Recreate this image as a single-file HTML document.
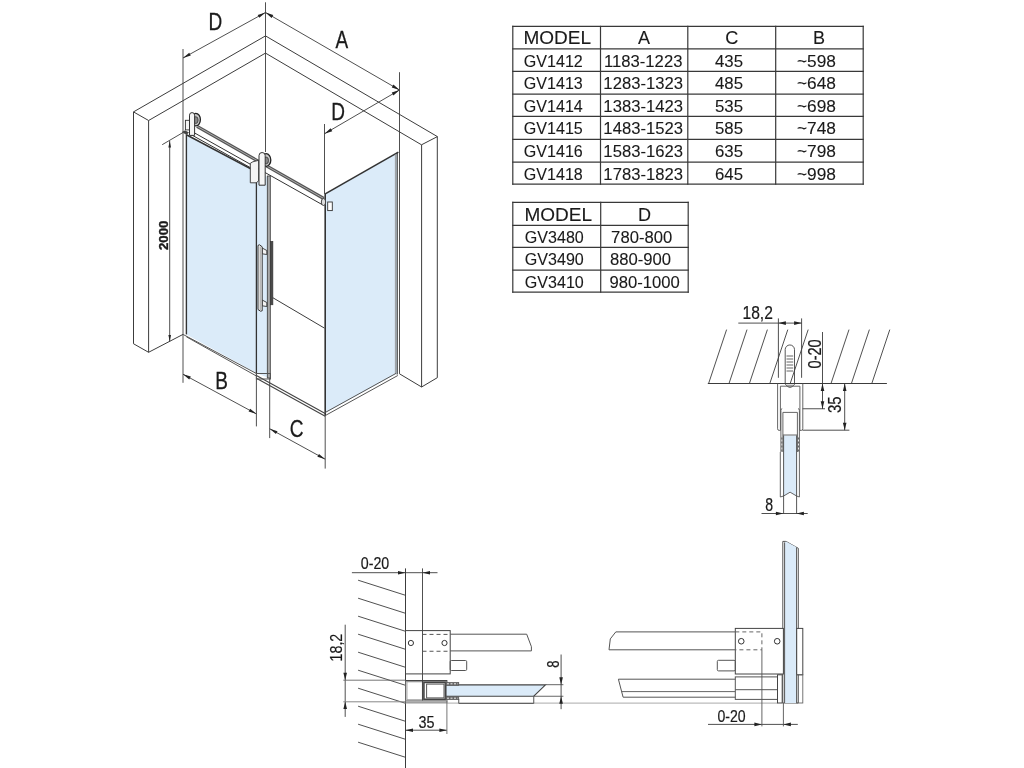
<!DOCTYPE html>
<html><head><meta charset="utf-8"><style>
html,body{margin:0;padding:0;background:#fff;width:1024px;height:768px;overflow:hidden}
svg{display:block;will-change:transform}
text{font-family:"Liberation Sans",sans-serif}
</style></head><body>
<svg width="1024" height="768" viewBox="0 0 1024 768">
<rect width="1024" height="768" fill="#fff"/>
<line x1="512.80" y1="26.40" x2="512.80" y2="184.20" stroke="#383838" stroke-width="1.2" stroke-linecap="square"/>
<line x1="600.50" y1="26.40" x2="600.50" y2="184.20" stroke="#383838" stroke-width="1.2" stroke-linecap="square"/>
<line x1="687.80" y1="26.40" x2="687.80" y2="184.20" stroke="#383838" stroke-width="1.2" stroke-linecap="square"/>
<line x1="775.70" y1="26.40" x2="775.70" y2="184.20" stroke="#383838" stroke-width="1.2" stroke-linecap="square"/>
<line x1="863.20" y1="26.40" x2="863.20" y2="184.20" stroke="#383838" stroke-width="1.2" stroke-linecap="square"/>
<line x1="512.80" y1="26.40" x2="863.20" y2="26.40" stroke="#383838" stroke-width="1.2" stroke-linecap="square"/>
<line x1="512.80" y1="48.90" x2="863.20" y2="48.90" stroke="#383838" stroke-width="1.2" stroke-linecap="square"/>
<line x1="512.80" y1="71.40" x2="863.20" y2="71.40" stroke="#383838" stroke-width="1.2" stroke-linecap="square"/>
<line x1="512.80" y1="94.20" x2="863.20" y2="94.20" stroke="#383838" stroke-width="1.2" stroke-linecap="square"/>
<line x1="512.80" y1="116.40" x2="863.20" y2="116.40" stroke="#383838" stroke-width="1.2" stroke-linecap="square"/>
<line x1="512.80" y1="139.30" x2="863.20" y2="139.30" stroke="#383838" stroke-width="1.2" stroke-linecap="square"/>
<line x1="512.80" y1="162.10" x2="863.20" y2="162.10" stroke="#383838" stroke-width="1.2" stroke-linecap="square"/>
<line x1="512.80" y1="184.20" x2="863.20" y2="184.20" stroke="#383838" stroke-width="1.2" stroke-linecap="square"/>
<text x="523.50" y="44.40" font-size="19" text-anchor="start" font-weight="normal" fill="#1a1a1a" stroke="#1a1a1a" stroke-width="0.1" letter-spacing="0">MODEL</text>
<text x="644.00" y="44.40" font-size="19" text-anchor="middle" font-weight="normal" fill="#1a1a1a" stroke="#1a1a1a" stroke-width="0.1" letter-spacing="0" transform="translate(644.00 44.40) scale(0.95 1) translate(-644.00 -44.40)">A</text>
<text x="731.80" y="44.40" font-size="19" text-anchor="middle" font-weight="normal" fill="#1a1a1a" stroke="#1a1a1a" stroke-width="0.1" letter-spacing="0" transform="translate(731.80 44.40) scale(0.95 1) translate(-731.80 -44.40)">C</text>
<text x="819.00" y="44.40" font-size="19" text-anchor="middle" font-weight="normal" fill="#1a1a1a" stroke="#1a1a1a" stroke-width="0.1" letter-spacing="0" transform="translate(819.00 44.40) scale(0.95 1) translate(-819.00 -44.40)">B</text>
<text x="523.80" y="66.60" font-size="16.5" text-anchor="start" font-weight="normal" fill="#1a1a1a" stroke="#1a1a1a" stroke-width="0.1" letter-spacing="0" transform="translate(523.80 66.60) scale(0.975 1) translate(-523.80 -66.60)">GV1412</text>
<text x="643.20" y="66.60" font-size="16.5" text-anchor="middle" font-weight="normal" fill="#1a1a1a" stroke="#1a1a1a" stroke-width="0.1" letter-spacing="0" transform="translate(643.20 66.60) scale(1.01 1) translate(-643.20 -66.60)">1183-1223</text>
<text x="729.00" y="66.60" font-size="16.5" text-anchor="middle" font-weight="normal" fill="#1a1a1a" stroke="#1a1a1a" stroke-width="0.1" letter-spacing="0" transform="translate(729.00 66.60) scale(1.02 1) translate(-729.00 -66.60)">435</text>
<text x="816.50" y="66.60" font-size="16.5" text-anchor="middle" font-weight="normal" fill="#1a1a1a" stroke="#1a1a1a" stroke-width="0.1" letter-spacing="0" transform="translate(816.50 66.60) scale(1.05 1) translate(-816.50 -66.60)">~598</text>
<text x="523.80" y="89.10" font-size="16.5" text-anchor="start" font-weight="normal" fill="#1a1a1a" stroke="#1a1a1a" stroke-width="0.1" letter-spacing="0" transform="translate(523.80 89.10) scale(0.975 1) translate(-523.80 -89.10)">GV1413</text>
<text x="643.20" y="89.10" font-size="16.5" text-anchor="middle" font-weight="normal" fill="#1a1a1a" stroke="#1a1a1a" stroke-width="0.1" letter-spacing="0" transform="translate(643.20 89.10) scale(1.01 1) translate(-643.20 -89.10)">1283-1323</text>
<text x="729.00" y="89.10" font-size="16.5" text-anchor="middle" font-weight="normal" fill="#1a1a1a" stroke="#1a1a1a" stroke-width="0.1" letter-spacing="0" transform="translate(729.00 89.10) scale(1.02 1) translate(-729.00 -89.10)">485</text>
<text x="816.50" y="89.10" font-size="16.5" text-anchor="middle" font-weight="normal" fill="#1a1a1a" stroke="#1a1a1a" stroke-width="0.1" letter-spacing="0" transform="translate(816.50 89.10) scale(1.05 1) translate(-816.50 -89.10)">~648</text>
<text x="523.80" y="111.90" font-size="16.5" text-anchor="start" font-weight="normal" fill="#1a1a1a" stroke="#1a1a1a" stroke-width="0.1" letter-spacing="0" transform="translate(523.80 111.90) scale(0.975 1) translate(-523.80 -111.90)">GV1414</text>
<text x="643.20" y="111.90" font-size="16.5" text-anchor="middle" font-weight="normal" fill="#1a1a1a" stroke="#1a1a1a" stroke-width="0.1" letter-spacing="0" transform="translate(643.20 111.90) scale(1.01 1) translate(-643.20 -111.90)">1383-1423</text>
<text x="729.00" y="111.90" font-size="16.5" text-anchor="middle" font-weight="normal" fill="#1a1a1a" stroke="#1a1a1a" stroke-width="0.1" letter-spacing="0" transform="translate(729.00 111.90) scale(1.02 1) translate(-729.00 -111.90)">535</text>
<text x="816.50" y="111.90" font-size="16.5" text-anchor="middle" font-weight="normal" fill="#1a1a1a" stroke="#1a1a1a" stroke-width="0.1" letter-spacing="0" transform="translate(816.50 111.90) scale(1.05 1) translate(-816.50 -111.90)">~698</text>
<text x="523.80" y="134.10" font-size="16.5" text-anchor="start" font-weight="normal" fill="#1a1a1a" stroke="#1a1a1a" stroke-width="0.1" letter-spacing="0" transform="translate(523.80 134.10) scale(0.975 1) translate(-523.80 -134.10)">GV1415</text>
<text x="643.20" y="134.10" font-size="16.5" text-anchor="middle" font-weight="normal" fill="#1a1a1a" stroke="#1a1a1a" stroke-width="0.1" letter-spacing="0" transform="translate(643.20 134.10) scale(1.01 1) translate(-643.20 -134.10)">1483-1523</text>
<text x="729.00" y="134.10" font-size="16.5" text-anchor="middle" font-weight="normal" fill="#1a1a1a" stroke="#1a1a1a" stroke-width="0.1" letter-spacing="0" transform="translate(729.00 134.10) scale(1.02 1) translate(-729.00 -134.10)">585</text>
<text x="816.50" y="134.10" font-size="16.5" text-anchor="middle" font-weight="normal" fill="#1a1a1a" stroke="#1a1a1a" stroke-width="0.1" letter-spacing="0" transform="translate(816.50 134.10) scale(1.05 1) translate(-816.50 -134.10)">~748</text>
<text x="523.80" y="157.00" font-size="16.5" text-anchor="start" font-weight="normal" fill="#1a1a1a" stroke="#1a1a1a" stroke-width="0.1" letter-spacing="0" transform="translate(523.80 157.00) scale(0.975 1) translate(-523.80 -157.00)">GV1416</text>
<text x="643.20" y="157.00" font-size="16.5" text-anchor="middle" font-weight="normal" fill="#1a1a1a" stroke="#1a1a1a" stroke-width="0.1" letter-spacing="0" transform="translate(643.20 157.00) scale(1.01 1) translate(-643.20 -157.00)">1583-1623</text>
<text x="729.00" y="157.00" font-size="16.5" text-anchor="middle" font-weight="normal" fill="#1a1a1a" stroke="#1a1a1a" stroke-width="0.1" letter-spacing="0" transform="translate(729.00 157.00) scale(1.02 1) translate(-729.00 -157.00)">635</text>
<text x="816.50" y="157.00" font-size="16.5" text-anchor="middle" font-weight="normal" fill="#1a1a1a" stroke="#1a1a1a" stroke-width="0.1" letter-spacing="0" transform="translate(816.50 157.00) scale(1.05 1) translate(-816.50 -157.00)">~798</text>
<text x="523.80" y="179.80" font-size="16.5" text-anchor="start" font-weight="normal" fill="#1a1a1a" stroke="#1a1a1a" stroke-width="0.1" letter-spacing="0" transform="translate(523.80 179.80) scale(0.975 1) translate(-523.80 -179.80)">GV1418</text>
<text x="643.20" y="179.80" font-size="16.5" text-anchor="middle" font-weight="normal" fill="#1a1a1a" stroke="#1a1a1a" stroke-width="0.1" letter-spacing="0" transform="translate(643.20 179.80) scale(1.01 1) translate(-643.20 -179.80)">1783-1823</text>
<text x="729.00" y="179.80" font-size="16.5" text-anchor="middle" font-weight="normal" fill="#1a1a1a" stroke="#1a1a1a" stroke-width="0.1" letter-spacing="0" transform="translate(729.00 179.80) scale(1.02 1) translate(-729.00 -179.80)">645</text>
<text x="816.50" y="179.80" font-size="16.5" text-anchor="middle" font-weight="normal" fill="#1a1a1a" stroke="#1a1a1a" stroke-width="0.1" letter-spacing="0" transform="translate(816.50 179.80) scale(1.05 1) translate(-816.50 -179.80)">~998</text>
<line x1="512.80" y1="202.40" x2="512.80" y2="292.10" stroke="#383838" stroke-width="1.2" stroke-linecap="square"/>
<line x1="600.70" y1="202.40" x2="600.70" y2="292.10" stroke="#383838" stroke-width="1.2" stroke-linecap="square"/>
<line x1="688.20" y1="202.40" x2="688.20" y2="292.10" stroke="#383838" stroke-width="1.2" stroke-linecap="square"/>
<line x1="512.80" y1="202.40" x2="688.20" y2="202.40" stroke="#383838" stroke-width="1.2" stroke-linecap="square"/>
<line x1="512.80" y1="225.30" x2="688.20" y2="225.30" stroke="#383838" stroke-width="1.2" stroke-linecap="square"/>
<line x1="512.80" y1="247.30" x2="688.20" y2="247.30" stroke="#383838" stroke-width="1.2" stroke-linecap="square"/>
<line x1="512.80" y1="270.20" x2="688.20" y2="270.20" stroke="#383838" stroke-width="1.2" stroke-linecap="square"/>
<line x1="512.80" y1="292.10" x2="688.20" y2="292.10" stroke="#383838" stroke-width="1.2" stroke-linecap="square"/>
<text x="524.50" y="220.80" font-size="19" text-anchor="start" font-weight="normal" fill="#1a1a1a" stroke="#1a1a1a" stroke-width="0.1" letter-spacing="0">MODEL</text>
<text x="644.60" y="220.80" font-size="19" text-anchor="middle" font-weight="normal" fill="#1a1a1a" stroke="#1a1a1a" stroke-width="0.1" letter-spacing="0" transform="translate(644.60 220.80) scale(0.95 1) translate(-644.60 -220.80)">D</text>
<text x="524.80" y="243.00" font-size="16.5" text-anchor="start" font-weight="normal" fill="#1a1a1a" stroke="#1a1a1a" stroke-width="0.1" letter-spacing="0" transform="translate(524.80 243.00) scale(0.975 1) translate(-524.80 -243.00)">GV3480</text>
<text x="641.70" y="243.00" font-size="16.5" text-anchor="middle" font-weight="normal" fill="#1a1a1a" stroke="#1a1a1a" stroke-width="0.1" letter-spacing="0" transform="translate(641.70 243.00) scale(1.01 1) translate(-641.70 -243.00)">780-800</text>
<text x="524.80" y="265.00" font-size="16.5" text-anchor="start" font-weight="normal" fill="#1a1a1a" stroke="#1a1a1a" stroke-width="0.1" letter-spacing="0" transform="translate(524.80 265.00) scale(0.975 1) translate(-524.80 -265.00)">GV3490</text>
<text x="640.50" y="265.00" font-size="16.5" text-anchor="middle" font-weight="normal" fill="#1a1a1a" stroke="#1a1a1a" stroke-width="0.1" letter-spacing="0" transform="translate(640.50 265.00) scale(1.01 1) translate(-640.50 -265.00)">880-900</text>
<text x="524.80" y="287.90" font-size="16.5" text-anchor="start" font-weight="normal" fill="#1a1a1a" stroke="#1a1a1a" stroke-width="0.1" letter-spacing="0" transform="translate(524.80 287.90) scale(0.975 1) translate(-524.80 -287.90)">GV3410</text>
<text x="644.60" y="287.90" font-size="16.5" text-anchor="middle" font-weight="normal" fill="#1a1a1a" stroke="#1a1a1a" stroke-width="0.1" letter-spacing="0" transform="translate(644.60 287.90) scale(1.01 1) translate(-644.60 -287.90)">980-1000</text>
<polygon points="186.40,134.80 256.40,171.80 256.40,373.00 186.40,334.40" fill="#dbebf9" stroke="none" stroke-width="1.0" />
<polygon points="256.40,171.80 268.50,177.50 268.50,378.00 256.40,373.00" fill="#dbebf9" stroke="none" stroke-width="1.0" />
<polygon points="325.20,193.90 397.00,152.60 397.00,373.40 325.20,413.00" fill="#dbebf9" stroke="none" stroke-width="1.0" />
<line x1="133.50" y1="111.90" x2="133.50" y2="343.75" stroke="#3c3c3c" stroke-width="1.0" />
<line x1="148.60" y1="120.50" x2="148.60" y2="352.30" stroke="#3c3c3c" stroke-width="1.0" />
<line x1="133.50" y1="343.75" x2="148.60" y2="352.30" stroke="#3c3c3c" stroke-width="1.0" />
<line x1="133.50" y1="111.90" x2="148.60" y2="120.50" stroke="#3c3c3c" stroke-width="1.0" />
<line x1="133.50" y1="111.90" x2="265.50" y2="35.90" stroke="#3c3c3c" stroke-width="1.0" />
<line x1="148.60" y1="120.50" x2="265.50" y2="53.10" stroke="#3c3c3c" stroke-width="1.0" />
<line x1="148.60" y1="352.30" x2="183.00" y2="334.40" stroke="#3c3c3c" stroke-width="1.0" />
<line x1="265.50" y1="35.90" x2="437.40" y2="136.60" stroke="#3c3c3c" stroke-width="1.0" />
<line x1="265.50" y1="53.10" x2="421.50" y2="144.80" stroke="#3c3c3c" stroke-width="1.0" />
<line x1="421.50" y1="144.80" x2="437.40" y2="136.60" stroke="#3c3c3c" stroke-width="1.0" />
<line x1="421.60" y1="144.80" x2="421.60" y2="387.00" stroke="#3c3c3c" stroke-width="1.0" />
<line x1="437.30" y1="136.60" x2="437.30" y2="377.70" stroke="#3c3c3c" stroke-width="1.0" />
<line x1="421.60" y1="387.00" x2="437.30" y2="377.70" stroke="#3c3c3c" stroke-width="1.0" />
<line x1="399.40" y1="373.75" x2="421.60" y2="387.00" stroke="#3c3c3c" stroke-width="1.0" />
<line x1="265.50" y1="2.30" x2="265.50" y2="152.00" stroke="#3c3c3c" stroke-width="0.9" />
<line x1="272.80" y1="297.70" x2="324.40" y2="328.10" stroke="#3c3c3c" stroke-width="1.0" />
<line x1="183.00" y1="49.00" x2="183.00" y2="382.80" stroke="#3c3c3c" stroke-width="0.9" />
<line x1="183.00" y1="58.00" x2="265.50" y2="12.50" stroke="#3c3c3c" stroke-width="0.9" />
<polygon points="183.00,58.00 189.21,52.69 190.80,55.58" fill="#222" stroke="none" stroke-width="1.0" />
<polygon points="265.50,12.50 259.29,17.81 257.70,14.92" fill="#222" stroke="none" stroke-width="1.0" />
<line x1="265.50" y1="12.50" x2="399.50" y2="90.00" stroke="#3c3c3c" stroke-width="0.9" />
<polygon points="399.50,90.00 391.75,87.42 393.40,84.57" fill="#222" stroke="none" stroke-width="1.0" />
<polygon points="265.50,12.50 273.25,15.08 271.60,17.93" fill="#222" stroke="none" stroke-width="1.0" />
<line x1="399.50" y1="72.20" x2="399.50" y2="373.75" stroke="#3c3c3c" stroke-width="0.9" />
<line x1="324.50" y1="124.00" x2="324.50" y2="194.00" stroke="#3c3c3c" stroke-width="0.9" />
<line x1="324.50" y1="133.75" x2="399.50" y2="90.00" stroke="#3c3c3c" stroke-width="0.9" />
<polygon points="324.50,133.75 330.58,128.29 332.24,131.14" fill="#222" stroke="none" stroke-width="1.0" />
<polygon points="399.50,90.00 393.42,95.46 391.76,92.61" fill="#222" stroke="none" stroke-width="1.0" />
<line x1="162.20" y1="144.70" x2="183.00" y2="132.50" stroke="#3c3c3c" stroke-width="0.9" />
<line x1="169.70" y1="141.00" x2="169.70" y2="341.40" stroke="#3c3c3c" stroke-width="0.9" />
<polygon points="169.70,141.00 171.00,147.50 168.40,147.50" fill="#222" stroke="none" stroke-width="1.0" />
<polygon points="169.70,341.40 168.40,334.90 171.00,334.90" fill="#222" stroke="none" stroke-width="1.0" />
<line x1="183.00" y1="374.20" x2="256.40" y2="413.90" stroke="#3c3c3c" stroke-width="0.9" />
<polygon points="183.00,374.20 190.82,376.55 189.25,379.46" fill="#222" stroke="none" stroke-width="1.0" />
<polygon points="256.40,413.90 248.58,411.55 250.15,408.64" fill="#222" stroke="none" stroke-width="1.0" />
<line x1="256.40" y1="372.00" x2="256.40" y2="426.40" stroke="#3c3c3c" stroke-width="0.9" />
<line x1="269.70" y1="428.75" x2="325.20" y2="459.20" stroke="#3c3c3c" stroke-width="0.9" />
<polygon points="269.70,428.75 277.51,431.15 275.92,434.04" fill="#222" stroke="none" stroke-width="1.0" />
<polygon points="325.20,459.20 317.39,456.80 318.98,453.91" fill="#222" stroke="none" stroke-width="1.0" />
<line x1="269.70" y1="378.00" x2="269.70" y2="438.10" stroke="#3c3c3c" stroke-width="0.9" />
<line x1="325.20" y1="415.00" x2="325.20" y2="468.60" stroke="#3c3c3c" stroke-width="0.9" />
<line x1="186.40" y1="134.80" x2="186.40" y2="334.40" stroke="#333333" stroke-width="1.4" />
<line x1="186.40" y1="134.80" x2="256.40" y2="171.80" stroke="#333333" stroke-width="1.6" />
<line x1="256.40" y1="171.80" x2="256.40" y2="373.00" stroke="#333333" stroke-width="1.3" />
<rect x="267.30" y="176.00" width="3.00" height="202.00" fill="#a8a8a8" stroke="#3a3a3a" stroke-width="0.8" />
<rect x="270.30" y="241.30" width="2.60" height="63.50" fill="#4a4a4a" stroke="#333" stroke-width="0.6" />
<polygon points="262.20,248.00 266.80,250.50 266.80,254.50 262.20,253.80" fill="#f4f4f4" stroke="#333" stroke-width="0.9" />
<polygon points="262.20,300.00 266.80,302.50 266.80,306.50 262.20,305.80" fill="#f4f4f4" stroke="#333" stroke-width="0.9" />
<polygon points="258.00,245.40 259.50,244.80 262.20,246.80 262.20,310.80 260.50,311.20 258.00,309.50" fill="#f6f6f6" stroke="#333" stroke-width="1.0" />
<line x1="260.20" y1="246.50" x2="260.20" y2="310.00" stroke="#777" stroke-width="0.7" />
<line x1="325.20" y1="193.90" x2="325.20" y2="415.60" stroke="#333333" stroke-width="1.6" />
<line x1="325.20" y1="193.90" x2="398.40" y2="152.10" stroke="#333333" stroke-width="1.6" />
<line x1="395.40" y1="154.00" x2="395.40" y2="374.00" stroke="#888" stroke-width="0.8" />
<line x1="397.20" y1="152.50" x2="397.20" y2="374.50" stroke="#3a3a3a" stroke-width="1.2" />
<line x1="325.20" y1="412.50" x2="396.00" y2="373.40" stroke="#555555" stroke-width="1.0" />
<line x1="325.20" y1="415.60" x2="397.80" y2="375.50" stroke="#555555" stroke-width="1.0" />
<line x1="183.00" y1="334.40" x2="256.40" y2="373.50" stroke="#555555" stroke-width="1.0" />
<line x1="186.40" y1="336.80" x2="256.40" y2="376.00" stroke="#555555" stroke-width="1.0" />
<line x1="256.40" y1="375.50" x2="325.20" y2="413.60" stroke="#444" stroke-width="1.1" />
<line x1="256.40" y1="378.30" x2="325.20" y2="416.20" stroke="#444" stroke-width="1.1" />
<rect x="256.40" y="373.50" width="14.10" height="5.50" fill="none" stroke="#555555" stroke-width="1.0" />
<line x1="197.00" y1="126.30" x2="323.75" y2="198.50" stroke="#555" stroke-width="3.2" />
<line x1="197.00" y1="126.30" x2="323.75" y2="198.50" stroke="#aaa" stroke-width="1.0" />
<line x1="192.00" y1="131.50" x2="322.00" y2="204.50" stroke="#333333" stroke-width="1.0" />
<line x1="190.00" y1="134.00" x2="256.40" y2="171.00" stroke="#333333" stroke-width="1.0" />
<ellipse cx="323.5" cy="202.0" rx="2.2" ry="3.5" fill="#ddd" stroke="#333" stroke-width="0.9"/>
<rect x="327.70" y="202.00" width="4.60" height="8.60" fill="#fff" stroke="#333333" stroke-width="0.9" />
<polygon points="182.60,132.00 185.00,130.80 188.50,132.60 186.40,134.60" fill="#444" stroke="#333" stroke-width="0.6" />
<ellipse cx="195.80" cy="119.60" rx="4.6" ry="6.3" fill="#c8c8c8" stroke="#222" stroke-width="1.3"/>
<ellipse cx="195.80" cy="120.10" rx="2.3" ry="3.4" fill="#888" stroke="#333" stroke-width="0.8"/>
<rect x="185.40" y="120.30" width="4.10" height="9.60" fill="#f4f4f4" stroke="#333" stroke-width="0.9" />
<path d="M189.50,135.40 L189.50,115.15 A2.55,2.55 0 0 1 194.60,115.15 L194.60,135.40 Z" fill="#f6f6f6" stroke="#333" stroke-width="1.0"/>
<polygon points="250.30,163.30 252.80,161.80 258.70,160.30 258.70,180.80 256.20,182.80 250.30,182.80" fill="#f4f4f4" stroke="#333" stroke-width="0.9" />
<ellipse cx="266.20" cy="160.00" rx="4.6" ry="6.3" fill="#c8c8c8" stroke="#222" stroke-width="1.3"/>
<ellipse cx="266.20" cy="160.50" rx="2.3" ry="3.4" fill="#888" stroke="#333" stroke-width="0.8"/>
<path d="M259.00,185.20 L259.00,155.60 A3.10,3.10 0 0 1 265.20,155.60 L265.20,185.20 Z" fill="#f6f6f6" stroke="#333" stroke-width="1.0"/>
<text x="208.50" y="30.30" font-size="23.6" text-anchor="start" font-weight="normal" fill="#1a1a1a" stroke="#1a1a1a" stroke-width="0.3" letter-spacing="0" transform="translate(208.50 30.30) scale(0.805 1) translate(-208.50 -30.30)">D</text>
<text x="335.50" y="47.70" font-size="23.6" text-anchor="start" font-weight="normal" fill="#1a1a1a" stroke="#1a1a1a" stroke-width="0.3" letter-spacing="0" transform="translate(335.50 47.70) scale(0.805 1) translate(-335.50 -47.70)">A</text>
<text x="331.30" y="120.50" font-size="23.6" text-anchor="start" font-weight="normal" fill="#1a1a1a" stroke="#1a1a1a" stroke-width="0.3" letter-spacing="0" transform="translate(331.30 120.50) scale(0.805 1) translate(-331.30 -120.50)">D</text>
<text x="215.30" y="389.00" font-size="23.6" text-anchor="start" font-weight="normal" fill="#1a1a1a" stroke="#1a1a1a" stroke-width="0.3" letter-spacing="0" transform="translate(215.30 389.00) scale(0.805 1) translate(-215.30 -389.00)">B</text>
<text x="289.80" y="437.30" font-size="23.6" text-anchor="start" font-weight="normal" fill="#1a1a1a" stroke="#1a1a1a" stroke-width="0.3" letter-spacing="0" transform="translate(289.80 437.30) scale(0.805 1) translate(-289.80 -437.30)">C</text>
<text x="167.90" y="250.00" font-size="12" text-anchor="start" font-weight="bold" fill="#1a1a1a" stroke="#1a1a1a" stroke-width="0.35" letter-spacing="0" transform="translate(167.90 250.00) rotate(-90) scale(1.1 1) translate(-167.90 -250.00)">2000</text>
<path d="M785.2,383.5 L785.2,349.6 A4.65,4.65 0 0 1 794.5,349.6 L794.5,383.5 Z" fill="#fff" stroke="#444" stroke-width="0.9"/>
<line x1="786.50" y1="356.00" x2="793.20" y2="356.00" stroke="#555" stroke-width="0.9" />
<line x1="786.50" y1="359.00" x2="793.20" y2="359.00" stroke="#555" stroke-width="0.9" />
<line x1="786.50" y1="362.00" x2="793.20" y2="362.00" stroke="#555" stroke-width="0.9" />
<line x1="786.50" y1="365.00" x2="793.20" y2="365.00" stroke="#555" stroke-width="0.9" />
<line x1="786.50" y1="368.00" x2="793.20" y2="368.00" stroke="#555" stroke-width="0.9" />
<line x1="786.50" y1="371.00" x2="793.20" y2="371.00" stroke="#555" stroke-width="0.9" />
<line x1="707.80" y1="383.50" x2="886.90" y2="383.50" stroke="#3c3c3c" stroke-width="1.0" />
<line x1="708.60" y1="383.50" x2="726.60" y2="329.60" stroke="#3c3c3c" stroke-width="0.9" />
<line x1="729.00" y1="383.50" x2="747.00" y2="329.60" stroke="#3c3c3c" stroke-width="0.9" />
<line x1="749.40" y1="383.50" x2="767.40" y2="329.60" stroke="#3c3c3c" stroke-width="0.9" />
<line x1="769.80" y1="383.50" x2="787.80" y2="329.60" stroke="#3c3c3c" stroke-width="0.9" />
<line x1="790.20" y1="383.50" x2="808.20" y2="329.60" stroke="#3c3c3c" stroke-width="0.9" />
<line x1="831.00" y1="383.50" x2="849.00" y2="329.60" stroke="#3c3c3c" stroke-width="0.9" />
<line x1="851.40" y1="383.50" x2="869.40" y2="329.60" stroke="#3c3c3c" stroke-width="0.9" />
<line x1="871.80" y1="383.50" x2="889.80" y2="329.60" stroke="#3c3c3c" stroke-width="0.9" />
<line x1="738.30" y1="323.10" x2="801.60" y2="323.10" stroke="#3c3c3c" stroke-width="0.9" />
<line x1="778.40" y1="318.40" x2="778.40" y2="377.80" stroke="#3c3c3c" stroke-width="0.9" />
<line x1="801.60" y1="318.40" x2="801.60" y2="377.80" stroke="#3c3c3c" stroke-width="0.9" />
<polygon points="778.40,323.10 785.90,321.30 785.90,324.90" fill="#222" stroke="none" stroke-width="1.0" />
<polygon points="801.60,323.10 794.10,324.90 794.10,321.30" fill="#222" stroke="none" stroke-width="1.0" />
<text x="742.50" y="318.75" font-size="17.6" text-anchor="start" font-weight="normal" fill="#1a1a1a" stroke="#1a1a1a" stroke-width="0.2" letter-spacing="0" transform="translate(742.50 318.75) scale(0.887 1) translate(-742.50 -318.75)">18,2</text>
<line x1="822.50" y1="332.00" x2="822.50" y2="409.00" stroke="#3c3c3c" stroke-width="0.9" />
<line x1="802.50" y1="408.75" x2="825.00" y2="408.75" stroke="#3c3c3c" stroke-width="0.9" />
<polygon points="822.50,383.50 824.30,391.00 820.70,391.00" fill="#222" stroke="none" stroke-width="1.0" />
<polygon points="822.50,408.75 820.70,401.25 824.30,401.25" fill="#222" stroke="none" stroke-width="1.0" />
<text x="820.80" y="368.40" font-size="17.6" text-anchor="start" font-weight="normal" fill="#1a1a1a" stroke="#1a1a1a" stroke-width="0.2" letter-spacing="0" transform="translate(820.80 368.40) rotate(-90) scale(0.827 1) translate(-820.80 -368.40)">0-20</text>
<line x1="844.70" y1="383.50" x2="844.70" y2="430.20" stroke="#3c3c3c" stroke-width="0.9" />
<line x1="802.50" y1="430.20" x2="849.40" y2="430.20" stroke="#3c3c3c" stroke-width="0.9" />
<polygon points="844.70,383.50 846.50,391.00 842.90,391.00" fill="#222" stroke="none" stroke-width="1.0" />
<polygon points="844.70,430.20 842.90,422.70 846.50,422.70" fill="#222" stroke="none" stroke-width="1.0" />
<text x="841.50" y="413.00" font-size="17.6" text-anchor="start" font-weight="normal" fill="#1a1a1a" stroke="#1a1a1a" stroke-width="0.2" letter-spacing="0" transform="translate(841.50 413.00) rotate(-90) scale(0.853 1) translate(-841.50 -413.00)">35</text>
<path d="M777.6,383.5 V428.8 Q777.6,430.4 779.2,430.4 H780.4 V386.2 H799.9 V430.4 H801.2 Q802.8,430.4 802.8,428.8 V383.5" fill="none" stroke="#555" stroke-width="0.9"/>
<path d="M785.2,384 Q790,391 794.8,384" fill="none" stroke="#555" stroke-width="0.9"/>
<line x1="786.50" y1="385.20" x2="793.50" y2="385.20" stroke="#777" stroke-width="0.8" />
<path d="M780.9,452 V410.5 Q780.9,408.6 782.2,408.6 M782.9,452 V412.4 H797.4 V452 M799.4,452 V410.5 Q799.4,408.6 798.1,408.6" fill="none" stroke="#555" stroke-width="0.9"/>
<polygon points="783.60,435.40 796.60,435.40 796.60,496.00 790.10,492.20 783.60,496.00" fill="#dbebf9" stroke="none" stroke-width="1.0" />
<polyline points="780.30,452.00 780.30,497.00 783.60,496.00 790.10,492.20 796.60,496.00 799.40,497.00 799.40,452.00" fill="none" stroke="#555" stroke-width="0.9" />
<line x1="783.60" y1="435.40" x2="783.60" y2="513.50" stroke="#444" stroke-width="0.9" />
<line x1="796.60" y1="435.40" x2="796.60" y2="513.50" stroke="#444" stroke-width="0.9" />
<line x1="782.90" y1="435.00" x2="797.40" y2="435.00" stroke="#555" stroke-width="0.9" />
<line x1="781.90" y1="437.50" x2="781.90" y2="439.50" stroke="#555" stroke-width="1.0" />
<line x1="798.40" y1="437.50" x2="798.40" y2="439.50" stroke="#555" stroke-width="1.0" />
<line x1="781.90" y1="441.50" x2="781.90" y2="443.50" stroke="#555" stroke-width="1.0" />
<line x1="798.40" y1="441.50" x2="798.40" y2="443.50" stroke="#555" stroke-width="1.0" />
<line x1="781.90" y1="445.50" x2="781.90" y2="447.50" stroke="#555" stroke-width="1.0" />
<line x1="798.40" y1="445.50" x2="798.40" y2="447.50" stroke="#555" stroke-width="1.0" />
<line x1="781.90" y1="449.50" x2="781.90" y2="451.50" stroke="#555" stroke-width="1.0" />
<line x1="798.40" y1="449.50" x2="798.40" y2="451.50" stroke="#555" stroke-width="1.0" />
<line x1="761.50" y1="513.50" x2="807.70" y2="513.50" stroke="#3c3c3c" stroke-width="0.9" />
<polygon points="783.40,513.50 775.90,515.30 775.90,511.70" fill="#222" stroke="none" stroke-width="1.0" />
<polygon points="796.40,513.50 803.90,511.70 803.90,515.30" fill="#222" stroke="none" stroke-width="1.0" />
<text x="765.30" y="511.10" font-size="17.6" text-anchor="start" font-weight="normal" fill="#1a1a1a" stroke="#1a1a1a" stroke-width="0.2" letter-spacing="0" transform="translate(765.30 511.10) scale(0.8 1) translate(-765.30 -511.10)">8</text>
<line x1="405.50" y1="568.40" x2="405.50" y2="768.00" stroke="#3c3c3c" stroke-width="1.0" />
<line x1="422.50" y1="568.40" x2="422.50" y2="701.00" stroke="#3c3c3c" stroke-width="0.9" />
<line x1="351.90" y1="572.70" x2="437.50" y2="572.70" stroke="#3c3c3c" stroke-width="0.9" />
<polygon points="405.50,572.70 398.00,574.50 398.00,570.90" fill="#222" stroke="none" stroke-width="1.0" />
<polygon points="422.50,572.70 430.00,570.90 430.00,574.50" fill="#222" stroke="none" stroke-width="1.0" />
<text x="360.80" y="569.50" font-size="17.05" text-anchor="start" font-weight="normal" fill="#1a1a1a" stroke="#1a1a1a" stroke-width="0.2" letter-spacing="0" transform="translate(360.80 569.50) scale(0.835 1) translate(-360.80 -569.50)">0-20</text>
<line x1="358.10" y1="580.20" x2="405.50" y2="595.30" stroke="#3c3c3c" stroke-width="0.9" />
<line x1="358.10" y1="598.20" x2="405.50" y2="613.30" stroke="#3c3c3c" stroke-width="0.9" />
<line x1="358.10" y1="616.20" x2="405.50" y2="631.30" stroke="#3c3c3c" stroke-width="0.9" />
<line x1="358.10" y1="634.20" x2="405.50" y2="649.30" stroke="#3c3c3c" stroke-width="0.9" />
<line x1="358.10" y1="652.20" x2="405.50" y2="667.30" stroke="#3c3c3c" stroke-width="0.9" />
<line x1="358.10" y1="670.20" x2="405.50" y2="685.30" stroke="#3c3c3c" stroke-width="0.9" />
<line x1="358.10" y1="688.20" x2="405.50" y2="703.30" stroke="#3c3c3c" stroke-width="0.9" />
<line x1="358.10" y1="706.20" x2="405.50" y2="721.30" stroke="#3c3c3c" stroke-width="0.9" />
<line x1="358.10" y1="724.20" x2="405.50" y2="739.30" stroke="#3c3c3c" stroke-width="0.9" />
<line x1="358.10" y1="742.20" x2="405.50" y2="757.30" stroke="#3c3c3c" stroke-width="0.9" />
<rect x="405.50" y="630.60" width="44.70" height="43.30" fill="#fff" stroke="#444" stroke-width="1.0" />
<line x1="422.50" y1="630.60" x2="422.50" y2="673.90" stroke="#3c3c3c" stroke-width="0.9" />
<line x1="422.50" y1="634.40" x2="450.20" y2="634.40" stroke="#555" stroke-width="1.0" stroke-dasharray="4,3"/>
<line x1="422.50" y1="651.25" x2="450.20" y2="651.25" stroke="#555" stroke-width="1.0" stroke-dasharray="4,3"/>
<circle cx="410.90" cy="643.00" r="2.60" fill="none" stroke="#333" stroke-width="1.0"/>
<circle cx="444.50" cy="643.00" r="2.60" fill="none" stroke="#333" stroke-width="1.0"/>
<polyline points="450.20,634.20 526.70,634.20 531.40,646.70 531.40,650.90 450.20,650.90" fill="none" stroke="#555" stroke-width="1.0" />
<rect x="450.20" y="660.50" width="16.50" height="10.00" fill="none" stroke="#555" stroke-width="1.0" rx="1.2"/>
<line x1="345.20" y1="624.70" x2="345.20" y2="716.90" stroke="#3c3c3c" stroke-width="0.9" />
<line x1="343.30" y1="680.20" x2="405.50" y2="680.20" stroke="#666" stroke-width="0.9" />
<line x1="343.30" y1="701.80" x2="405.50" y2="701.80" stroke="#888" stroke-width="1.0" />
<line x1="405.50" y1="703.10" x2="777.50" y2="703.10" stroke="#aaa" stroke-width="1.0" />
<polygon points="345.20,680.20 343.40,672.70 347.00,672.70" fill="#222" stroke="none" stroke-width="1.0" />
<polygon points="345.20,701.60 347.00,709.10 343.40,709.10" fill="#222" stroke="none" stroke-width="1.0" />
<text x="342.50" y="661.40" font-size="17.05" text-anchor="start" font-weight="normal" fill="#1a1a1a" stroke="#1a1a1a" stroke-width="0.2" letter-spacing="0" transform="translate(342.50 661.40) rotate(-90) scale(0.835 1) translate(-342.50 -661.40)">18,2</text>
<rect x="405.50" y="680.60" width="41.50" height="21.40" fill="#fff" stroke="#666" stroke-width="1.0" />
<line x1="405.50" y1="680.80" x2="447.00" y2="680.80" stroke="#444" stroke-width="1.6" />
<line x1="405.50" y1="700.60" x2="447.00" y2="700.60" stroke="#888" stroke-width="0.9" />
<rect x="406.90" y="681.80" width="15.50" height="18.00" fill="none" stroke="#999" stroke-width="1.0" />
<rect x="423.90" y="682.40" width="21.50" height="16.90" fill="none" stroke="#444" stroke-width="1.6" />
<rect x="426.60" y="684.10" width="17.40" height="13.80" fill="none" stroke="#555" stroke-width="1.0" />
<line x1="422.50" y1="680.00" x2="422.50" y2="700.50" stroke="#3c3c3c" stroke-width="0.9" />
<polygon points="446.00,684.90 545.50,684.90 533.75,696.25 446.00,696.25" fill="#dbebf9" stroke="#444" stroke-width="1.1" />
<rect x="445.80" y="682.30" width="13.00" height="3.00" fill="#666" stroke="#555" stroke-width="0.6" />
<line x1="447.00" y1="683.80" x2="458.00" y2="683.80" stroke="#eee" stroke-width="1.0" stroke-dasharray="2,1.5"/>
<rect x="445.80" y="696.80" width="13.00" height="2.90" fill="#666" stroke="#555" stroke-width="0.6" />
<line x1="447.00" y1="698.20" x2="458.00" y2="698.20" stroke="#eee" stroke-width="1.0" stroke-dasharray="2,1.5"/>
<polyline points="458.75,699.00 458.75,703.40 533.75,703.40 533.75,696.25" fill="none" stroke="#555" stroke-width="1.0" />
<line x1="545.50" y1="684.70" x2="563.40" y2="684.70" stroke="#555" stroke-width="0.9" />
<line x1="533.75" y1="696.25" x2="563.40" y2="696.25" stroke="#555" stroke-width="0.9" />
<line x1="561.10" y1="654.50" x2="561.10" y2="709.20" stroke="#3c3c3c" stroke-width="0.9" />
<polygon points="561.10,684.70 559.30,677.20 562.90,677.20" fill="#222" stroke="none" stroke-width="1.0" />
<polygon points="561.10,696.25 562.90,703.75 559.30,703.75" fill="#222" stroke="none" stroke-width="1.0" />
<text x="558.75" y="667.80" font-size="16.5" text-anchor="start" font-weight="normal" fill="#1a1a1a" stroke="#1a1a1a" stroke-width="0.2" letter-spacing="0" transform="translate(558.75 667.80) rotate(-90) scale(0.8 1) translate(-558.75 -667.80)">8</text>
<line x1="405.50" y1="730.20" x2="446.90" y2="730.20" stroke="#3c3c3c" stroke-width="0.9" />
<polygon points="405.50,730.20 413.00,728.40 413.00,732.00" fill="#222" stroke="none" stroke-width="1.0" />
<polygon points="446.90,730.20 439.40,732.00 439.40,728.40" fill="#222" stroke="none" stroke-width="1.0" />
<line x1="446.90" y1="701.60" x2="446.90" y2="734.00" stroke="#666" stroke-width="0.9" />
<text x="418.50" y="727.80" font-size="17.05" text-anchor="start" font-weight="normal" fill="#1a1a1a" stroke="#1a1a1a" stroke-width="0.2" letter-spacing="0" transform="translate(418.50 727.80) scale(0.844 1) translate(-418.50 -727.80)">35</text>
<polygon points="782.80,541.40 786.00,541.40 798.30,548.30 798.30,703.00 782.80,703.00" fill="#fff" stroke="#555" stroke-width="1.0" />
<polygon points="784.60,542.40 786.00,541.40 796.60,547.30 796.60,703.00 784.60,703.00" fill="#dbebf9" stroke="none" stroke-width="0" />
<line x1="784.60" y1="542.40" x2="784.60" y2="703.00" stroke="#555" stroke-width="1.0" />
<line x1="796.60" y1="547.30" x2="796.60" y2="703.00" stroke="#555" stroke-width="1.0" />
<rect x="796.70" y="628.40" width="6.10" height="46.40" fill="#fff" stroke="#444" stroke-width="1.0" />
<rect x="796.70" y="674.80" width="6.10" height="28.20" fill="none" stroke="#666" stroke-width="0.9" />
<rect x="735.30" y="628.40" width="48.10" height="45.60" fill="#fff" stroke="#444" stroke-width="1.0" />
<polyline points="735.30,631.90 761.90,631.90 761.90,649.80 735.30,649.80" fill="none" stroke="#666" stroke-width="1.0" stroke-dasharray="4,3"/>
<circle cx="741.25" cy="641.25" r="2.80" fill="none" stroke="#333" stroke-width="1.0"/>
<circle cx="777.20" cy="641.25" r="2.80" fill="none" stroke="#333" stroke-width="1.0"/>
<polyline points="735.30,631.90 615.80,631.90 610.30,638.90 609.00,649.80 735.30,649.80" fill="none" stroke="#555" stroke-width="1.0" />
<rect x="717.30" y="660.30" width="18.00" height="10.60" fill="none" stroke="#555" stroke-width="1.0" rx="1.2"/>
<rect x="735.30" y="676.90" width="42.20" height="22.50" fill="none" stroke="#555" stroke-width="1.0" />
<line x1="735.30" y1="689.70" x2="777.50" y2="689.70" stroke="#555" stroke-width="1.0" />
<polyline points="735.30,679.20 618.40,679.20 623.10,697.20 735.30,697.20" fill="none" stroke="#555" stroke-width="1.0" />
<line x1="621.00" y1="691.60" x2="735.30" y2="691.60" stroke="#666" stroke-width="1.0" />
<rect x="777.50" y="674.80" width="4.70" height="28.20" fill="#fff" stroke="#444" stroke-width="1.0" />
<line x1="708.00" y1="724.40" x2="797.80" y2="724.40" stroke="#3c3c3c" stroke-width="0.9" />
<polygon points="761.90,724.40 754.40,726.20 754.40,722.60" fill="#222" stroke="none" stroke-width="1.0" />
<polygon points="783.40,724.40 790.90,722.60 790.90,726.20" fill="#222" stroke="none" stroke-width="1.0" />
<line x1="761.90" y1="649.80" x2="761.90" y2="726.40" stroke="#555" stroke-width="0.9" />
<line x1="783.40" y1="703.00" x2="783.40" y2="726.40" stroke="#555" stroke-width="0.9" />
<text x="717.50" y="722.00" font-size="17.05" text-anchor="start" font-weight="normal" fill="#1a1a1a" stroke="#1a1a1a" stroke-width="0.2" letter-spacing="0" transform="translate(717.50 722.00) scale(0.827 1) translate(-717.50 -722.00)">0-20</text>
</svg>
</body></html>
